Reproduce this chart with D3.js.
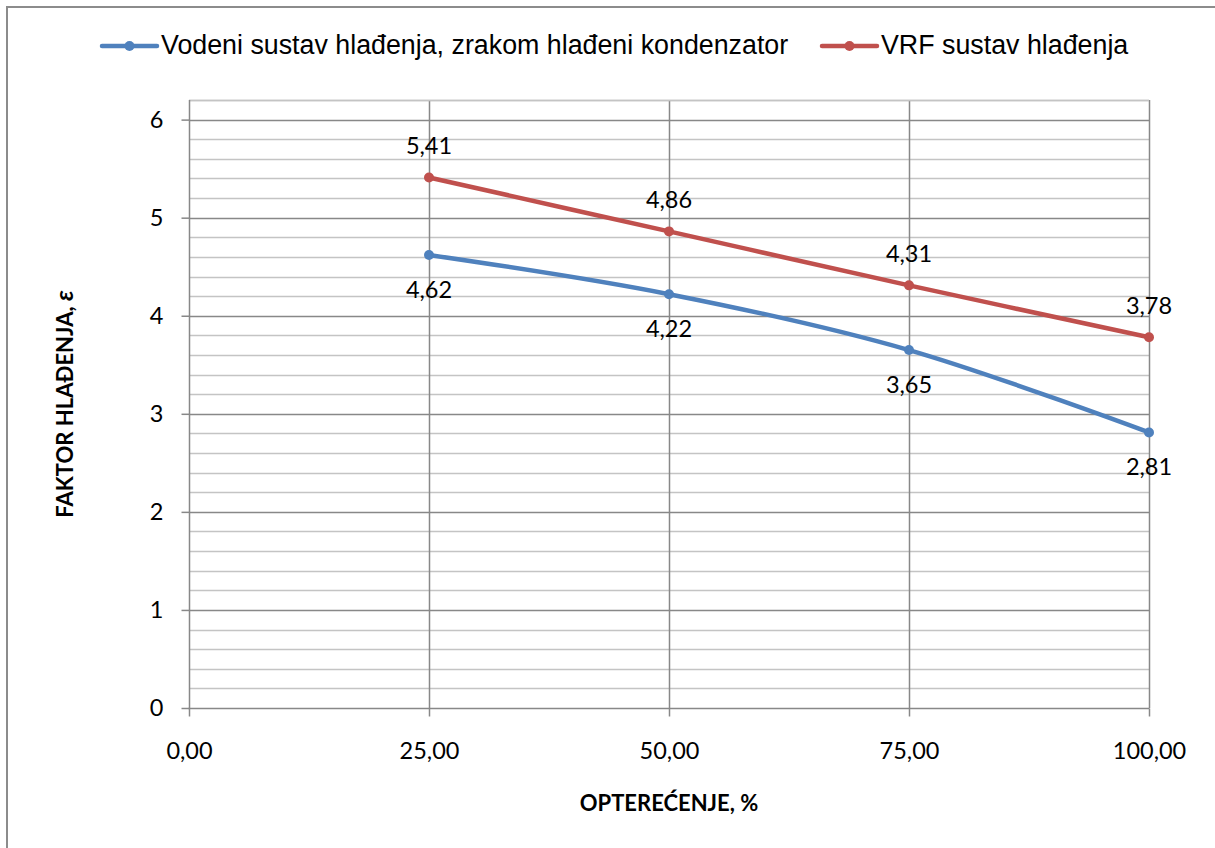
<!DOCTYPE html>
<html>
<head>
<meta charset="utf-8">
<script src="https://cdn.jsdelivr.net/npm/d3@7"></script>
<style>
  body { margin: 0; background: #fff; }
  svg text { fill: #000; }
</style>
</head>
<body>
<div id="chart"></div>
<script>
// Data
const loadPct = [25, 50, 75, 100];
const vodeniValues = [4.62, 4.22, 3.65, 2.81];
const vrfValues = [5.41, 4.86, 4.31, 3.78];
const xTicks = [0, 25, 50, 75, 100];
const yTicks = [0, 1, 2, 3, 4, 5, 6];
const seriesNames = ['Vodeni sustav hlađenja, zrakom hlađeni kondenzator', 'VRF sustav hlađenja'];
const seriesColors = ['#4F81BD', '#C0504D'];

const width = 1215;
const height = 848;
const margin = {top: 100, right: 66, bottom: 140, left: 189};
const labelFont = 'Lato, "Open Sans", sans-serif';

const svg = d3.select('#chart')
    .append('svg')
    .attr('width', width)
    .attr('height', height);

// outer border (right and bottom fall outside the picture)
svg.append('rect')
    .attr('x', 7).attr('y', 7)
    .attr('width', width + 20).attr('height', height + 20)
    .attr('fill', 'none')
    .attr('stroke', '#8c8c8c')
    .attr('stroke-width', 2);

const x = d3.scaleLinear()
    .domain([0, 100])
    .range([margin.left, width - margin.right]);

const y = d3.scaleLinear()
    .domain([0, 6.2])
    .range([height - margin.bottom, margin.top]);

// minor horizontal grid
const minor = d3.range(0.2, 6.21, 0.2).filter(v => Math.abs(v - Math.round(v)) > 0.01);
svg.append('g')
    .selectAll('line')
    .data(minor)
    .enter()
    .append('line')
    .attr('x1', x(0)).attr('x2', x(100))
    .attr('y1', d => Math.round(y(d)) + 0.5)
    .attr('y2', d => Math.round(y(d)) + 0.5)
    .attr('stroke', '#c4c4c4')
    .attr('stroke-width', 1.5);

// major horizontal grid
svg.append('g')
    .selectAll('line')
    .data(yTicks.filter(d => d > 0))
    .enter()
    .append('line')
    .attr('x1', x(0)).attr('x2', x(100))
    .attr('y1', d => Math.round(y(d)) + 0.5)
    .attr('y2', d => Math.round(y(d)) + 0.5)
    .attr('stroke', '#888888')
    .attr('stroke-width', 1.5);

// vertical grid
svg.append('g')
    .selectAll('line')
    .data(xTicks.filter(d => d > 0))
    .enter()
    .append('line')
    .attr('x1', d => Math.round(x(d)) + 0.5)
    .attr('x2', d => Math.round(x(d)) + 0.5)
    .attr('y1', y(6.2)).attr('y2', y(0))
    .attr('stroke', '#888888')
    .attr('stroke-width', 1.5);

// top border of plot area
svg.append('line')
    .attr('x1', x(0)).attr('x2', x(100))
    .attr('y1', Math.round(y(6.2)) + 0.5).attr('y2', Math.round(y(6.2)) + 0.5)
    .attr('stroke', '#c4c4c4')
    .attr('stroke-width', 1.5);

// axes
const fmt = d => d3.format('.2f')(d).replace('.', ',');

const xAxis = d3.axisBottom(x)
    .tickValues(xTicks)
    .tickSize(8)
    .tickPadding(26)
    .tickFormat(fmt);

const gx = svg.append('g')
    .attr('transform', `translate(0,${Math.round(y(0)) + 0.5})`)
    .call(xAxis);

const yAxis = d3.axisLeft(y)
    .tickValues(yTicks)
    .tickSize(8)
    .tickPadding(18)
    .tickFormat(d3.format('d'));

const gy = svg.append('g')
    .attr('transform', `translate(${Math.round(x(0)) + 0.5},0)`)
    .call(yAxis);

[gx, gy].forEach(g => {
    g.select('.domain').attr('stroke', '#888888').attr('stroke-width', 1.5);
    g.selectAll('.tick line').attr('stroke', '#888888').attr('stroke-width', 1.5);
    g.selectAll('.tick text')
        .style('font-family', labelFont)
        .style('font-size', '23.5px')
        .attr('fill', '#000');
});
gy.select('.domain').attr('d', `M0,${y(6.2)}V${y(0)}`);
gx.select('.domain').attr('d', `M${x(0) - 0.5},0H${x(100) + 0.5}`);

// lines
const series = [vodeniValues, vrfValues];
const line = d3.line()
    .x((d, i) => x(loadPct[i]))
    .y(d => y(d))
    .curve(d3.curveCatmullRom.alpha(0.5));

series.forEach((vals, s) => {
    svg.append('path')
        .datum(vals)
        .attr('d', line)
        .attr('fill', 'none')
        .attr('stroke', seriesColors[s])
        .attr('stroke-width', 4.5)
        .attr('stroke-linecap', 'round');

    svg.append('g')
        .selectAll('circle')
        .data(vals)
        .enter()
        .append('circle')
        .attr('cx', (d, i) => x(loadPct[i]))
        .attr('cy', d => y(d))
        .attr('r', 5)
        .attr('fill', seriesColors[s]);

    // data labels: blue below, red above
    svg.append('g')
        .selectAll('text')
        .data(vals)
        .enter()
        .append('text')
        .attr('x', (d, i) => x(loadPct[i]))
        .attr('y', d => y(d) + (s === 0 ? 43 : -23))
        .attr('text-anchor', 'middle')
        .style('font-family', labelFont)
        .style('font-size', '23.5px')
        .text(fmt);
});

// axis titles
svg.append('text')
    .attr('x', (x(0) + x(100)) / 2)
    .attr('y', 811)
    .attr('text-anchor', 'middle')
    .style('font-family', labelFont)
    .style('font-size', '22px')
    .style('font-weight', 'bold')
    .text('OPTEREĆENJE, %');

const yTitle = svg.append('text')
    .attr('transform', `translate(73,${(y(0) + y(6.2)) / 2}) rotate(-90)`)
    .attr('text-anchor', 'middle')
    .style('font-family', labelFont)
    .style('font-size', '22px')
    .style('font-weight', 'bold');
yTitle.append('tspan').text('FAKTOR HLAĐENJA, ');
yTitle.append('tspan').style('font-style', 'italic').style('font-size', '25px').text('ε');

// legend
const legendX = [102, 822];
seriesNames.forEach((name, s) => {
    const g = svg.append('g').attr('transform', `translate(${legendX[s]},46)`);
    g.append('line')
        .attr('x1', 0).attr('x2', 55)
        .attr('y1', 0).attr('y2', 0)
        .attr('stroke', seriesColors[s])
        .attr('stroke-width', 4.5)
        .attr('stroke-linecap', 'round');
    g.append('circle')
        .attr('cx', 27.5).attr('cy', 0).attr('r', 5)
        .attr('fill', seriesColors[s]);
    g.append('text')
        .attr('x', 59)
        .attr('y', 8)
        .style('font-family', '"Liberation Sans", Arial, sans-serif')
        .style('font-size', '26.8px')
        .text(name);
});
</script>
</body>
</html>
